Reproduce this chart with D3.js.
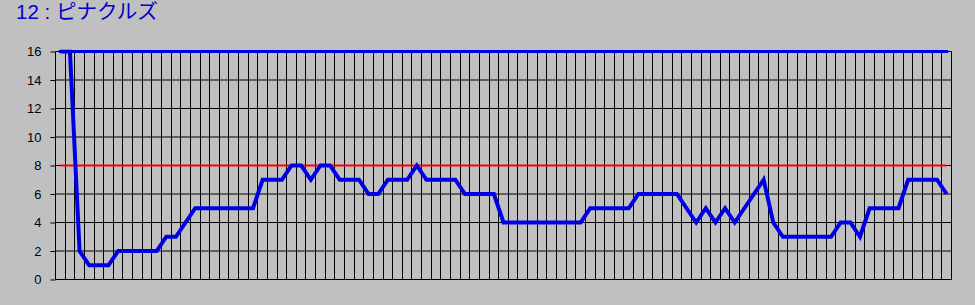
<!DOCTYPE html>
<html>
<head>
<meta charset="utf-8">
<script src="https://cdn.jsdelivr.net/npm/d3@7"></script>
<style>
  body { margin: 0; background: #c0c0c0; }
  svg { display: block; }
</style>
</head>
<body>
<div id="chart"></div>
<script>
// titre du graphique
var title = "12 : ピナクルズ";

// valeurs de la série (93 points)
var values = [16, 16, 2, 1, 1, 1, 2, 2, 2, 2,
              2, 3, 3, 4, 5, 5, 5, 5, 5, 5,
              5, 7, 7, 7, 8, 8, 7, 8, 8, 7,
              7, 7, 6, 6, 7, 7, 7, 8, 7, 7,
              7, 7, 6, 6, 6, 6, 4, 4, 4, 4,
              4, 4, 4, 4, 4, 5, 5, 5, 5, 5,
              6, 6, 6, 6, 6, 5, 4, 5, 4, 5,
              4, 5, 6, 7, 4, 3, 3, 3, 3, 3,
              3, 4, 4, 3, 5, 5, 5, 5, 7, 7,
              7, 7, 6];

// lignes de référence
var maxLine = 16;
var midLine = 8;

// graduations de l'axe Y
var yTicks = [0, 2, 4, 6, 8, 10, 12, 14, 16];

var width = 975, height = 305;
// ("top" est réservé par window, d'où ces noms)
var pLeft = 55.5, pRight = 951.5, pTop = 51.5, pBottom = 279.5;

var svg = d3.select("#chart")
  .append("svg")
  .attr("width", width)
  .attr("height", height)
  .style("background", "#c0c0c0");

var x = d3.scaleBand()
  .domain(d3.range(values.length))
  .range([pLeft, pRight])
  .padding(0);

var y = d3.scaleLinear()
  .domain([0, 16])
  .range([pBottom, pTop]);

function cx(i) { return x(i) + x.bandwidth() / 2; }

// titre
svg.append("text")
  .attr("x", 16)
  .attr("y", 19)
  .attr("fill", "#0000cc")
  .style("font-family", "'Liberation Sans', 'Noto Sans CJK JP', sans-serif")
  .style("font-size", "20.5px")
  .text(title);

// grille verticale
svg.append("g")
  .selectAll("line")
  .data(d3.range(values.length + 1))
  .enter().append("line")
    .attr("x1", d => Math.round(pLeft + d * x.bandwidth() - 0.5) + 0.5)
    .attr("x2", d => Math.round(pLeft + d * x.bandwidth() - 0.5) + 0.5)
    .attr("y1", pTop)
    .attr("y2", pBottom)
    .attr("stroke", "#000")
    .attr("stroke-width", 1);

// axe Y avec grille horizontale
var yAxis = svg.append("g")
  .attr("transform", "translate(" + pLeft + ",0)")
  .call(d3.axisLeft(y).tickValues(yTicks).tickSize(5).tickPadding(9));

yAxis.select(".domain").remove();
yAxis.selectAll(".tick line").attr("stroke", "#000");
yAxis.selectAll(".tick text")
  .attr("fill", "#000")
  .style("font-family", "'Liberation Sans', Arial, sans-serif")
  .style("font-size", "13px");

svg.append("g")
  .selectAll("line")
  .data(yTicks)
  .enter().append("line")
    .attr("x1", pLeft)
    .attr("x2", pRight)
    .attr("y1", d => y(d))
    .attr("y2", d => y(d))
    .attr("stroke", "#000")
    .attr("stroke-width", 1);

// ligne rouge
svg.append("line")
  .attr("x1", cx(0))
  .attr("x2", cx(values.length - 1))
  .attr("y1", y(midLine))
  .attr("y2", y(midLine))
  .attr("stroke", "#ff0000")
  .attr("stroke-width", 2);

// ligne bleue du haut
svg.append("line")
  .attr("x1", cx(0))
  .attr("x2", cx(values.length - 1))
  .attr("y1", y(maxLine))
  .attr("y2", y(maxLine))
  .attr("stroke", "#0000e6")
  .attr("stroke-width", 3)
  .attr("stroke-linecap", "square");

// série principale
svg.append("clipPath")
  .attr("id", "clip")
  .append("rect")
    .attr("x", pLeft)
    .attr("y", pTop - 2)
    .attr("width", pRight - pLeft)
    .attr("height", pBottom - pTop + 4);

var line = d3.line()
  .x((d, i) => cx(i))
  .y(d => y(d));

svg.append("path")
  .datum(values)
  .attr("clip-path", "url(#clip)")
  .attr("fill", "none")
  .attr("stroke", "#0000e6")
  .attr("stroke-width", 4)
  .attr("d", line);
</script>
</body>
</html>
